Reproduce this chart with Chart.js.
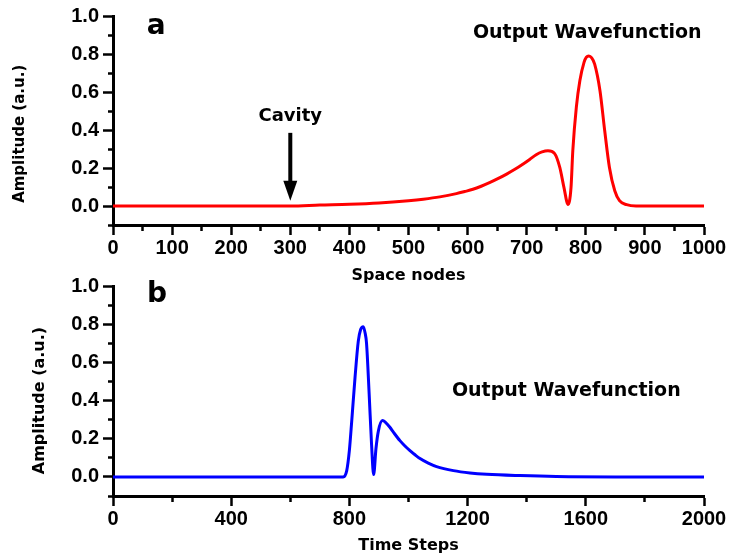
<!DOCTYPE html>
<html>
<head>
<meta charset="utf-8">
<script src="https://cdn.jsdelivr.net/npm/chart.js@4.4.1/dist/chart.umd.min.js"></script>
<style>
  body { margin: 0; background: #fff; }
  #wrap { position: relative; width: 730px; height: 558px; overflow: hidden; }
  canvas { position: absolute; left: 0; }
</style>
</head>
<body>
<div id="wrap">
  <canvas id="chartA" width="730" height="286" style="top:0"></canvas>
  <canvas id="chartB" width="730" height="288" style="top:270px"></canvas>
</div>
<script>
// panel a: amplitude along the space nodes
const spaceNodes = [0, 100, 200, 300, 350, 400, 450, 500, 525, 553, 581, 595, 609, 623, 638, 652, 666, 680, 694, 705, 716, 726, 736, 747, 756, 763, 770, 775, 778, 784, 790, 797, 801, 805, 810, 815, 824, 832, 840, 849, 857, 869, 885, 900, 1000];
const ampSpace   = [0, 0, 0, 0, 0.005, 0.009, 0.016, 0.028, 0.036, 0.048, 0.065, 0.076, 0.088, 0.104, 0.124, 0.145, 0.168, 0.193, 0.221, 0.245, 0.27, 0.285, 0.291, 0.277, 0.203, 0.098, 0.008, 0.098, 0.29, 0.52, 0.66, 0.756, 0.783, 0.79, 0.78, 0.747, 0.607, 0.396, 0.203, 0.08, 0.028, 0.007, 0, 0, 0];

// panel b: amplitude over time steps
const timeSteps = [0, 400, 779, 791, 800, 808, 819, 830, 838, 847, 853, 858, 867, 875, 882, 890, 898, 912, 922, 937, 950, 971, 988, 1005, 1022, 1039, 1067, 1095, 1152, 1208, 1265, 1377, 1500, 1700, 2000];
const ampTime   = [0, 0, 0, 0.033, 0.14, 0.295, 0.52, 0.71, 0.772, 0.787, 0.755, 0.70, 0.43, 0.17, 0.012, 0.15, 0.24, 0.295, 0.286, 0.26, 0.232, 0.19, 0.162, 0.138, 0.116, 0.096, 0.072, 0.054, 0.033, 0.021, 0.014, 0.007, 0.002, 0, 0];

const cavityNode = 300;

const TICK_FONT = { family: "'Liberation Sans', Arial, sans-serif", size: 20, weight: 'bold' };
const TITLE_FAMILY = "'DejaVu Sans', sans-serif";

// major ticks carry a label, minor ones are drawn shorter with a dash
function isMajor(value, every) {
  return value >= 0 && Math.abs(value / every - Math.round(value / every)) < 1e-6;
}

// texts and arrow drawn on top of the chart, placed with the chart's scales
function annotations(spec) {
  return {
    id: 'annotations',
    afterDraw(chart) {
      const { ctx, scales: { x, y } } = chart;
      ctx.save();
      ctx.fillStyle = '#000';
      ctx.strokeStyle = '#000';

      ctx.font = `bold 28px ${TITLE_FAMILY}`;
      ctx.textAlign = 'left';
      ctx.textBaseline = 'alphabetic';
      ctx.fillText(spec.letter, x.getPixelForValue(spec.letterAt[0]), y.getPixelForValue(spec.letterAt[1]));

      ctx.font = `bold 19px ${TITLE_FAMILY}`;
      ctx.fillText('Output Wavefunction', x.getPixelForValue(spec.outputAt[0]), y.getPixelForValue(spec.outputAt[1]));

      if (spec.cavity) {
        const cx = x.getPixelForValue(cavityNode);
        ctx.font = `bold 18px ${TITLE_FAMILY}`;
        ctx.textAlign = 'center';
        ctx.fillText('Cavity', cx, y.getPixelForValue(0.449));
        const top = y.getPixelForValue(0.385);
        const tip = y.getPixelForValue(0.028);
        ctx.lineWidth = 4;
        ctx.beginPath();
        ctx.moveTo(cx, top);
        ctx.lineTo(cx, tip - 15);
        ctx.stroke();
        ctx.beginPath();
        ctx.moveTo(cx - 7, tip - 20);
        ctx.lineTo(cx + 7, tip - 20);
        ctx.lineTo(cx, tip);
        ctx.closePath();
        ctx.fill();
      }

      // y axis title
      ctx.save();
      ctx.font = `bold ${spec.yTitleSize}px ${TITLE_FAMILY}`;
      ctx.translate(spec.yTitleX, y.getPixelForValue(spec.yTitleAt));
      ctx.rotate(-Math.PI / 2);
      ctx.textAlign = 'center';
      ctx.textBaseline = 'middle';
      ctx.fillText('Amplitude (a.u.)', 0, 0);
      ctx.restore();

      ctx.restore();
    }
  };
}

function makeChart(id, cfg) {
  const points = cfg.xs.map((v, i) => ({ x: v, y: cfg.ys[i] }));
  return new Chart(document.getElementById(id), {
    type: 'line',
    data: {
      datasets: [{
        data: points,
        borderColor: cfg.color,
        borderWidth: 3,
        pointRadius: 0,
        cubicInterpolationMode: 'monotone',
        fill: false
      }]
    },
    options: {
      responsive: false,
      animation: false,
      layout: { padding: { top: 15, right: 26, left: 0, bottom: 0 } },
      plugins: { legend: { display: false }, tooltip: { enabled: false } },
      scales: {
        x: {
          type: 'linear',
          min: 0,
          max: cfg.xMax,
          afterFit: (s) => { s.height = cfg.xAxisHeight; },
          border: { display: true, color: '#000', width: 3 },
          grid: {
            drawOnChartArea: false,
            drawTicks: true,
            tickLength: 10,
            tickWidth: 2.5,
            tickColor: '#000',
            tickBorderDash: (c) => isMajor(c.tick.value, cfg.xLabelEvery) ? [] : [4, 50]
          },
          ticks: {
            stepSize: cfg.xStep,
            autoSkip: false,
            maxRotation: 0,
            padding: 1,
            color: '#000',
            font: TICK_FONT,
            callback: (v) => isMajor(v, cfg.xLabelEvery) ? String(Math.round(v)) : ''
          },
          title: {
            display: true,
            text: cfg.xTitle,
            color: '#000',
            font: { family: TITLE_FAMILY, size: 16, weight: 'bold', lineHeight: 1.2 },
            padding: { top: 0, bottom: cfg.xTitlePad }
          }
        },
        y: {
          type: 'linear',
          min: -0.1,
          max: 1.0,
          afterFit: (s) => { s.width = 113; },
          border: { display: true, color: '#000', width: 3 },
          grid: {
            drawOnChartArea: false,
            drawTicks: true,
            tickLength: 10,
            tickWidth: 2.5,
            tickColor: '#000',
            tickBorderDash: (c) => isMajor(c.tick.value, 0.2) ? [] : [5, 5],
            tickBorderDashOffset: (c) => isMajor(c.tick.value, 0.2) ? 0 : 5
          },
          ticks: {
            stepSize: 0.1,
            autoSkip: false,
            padding: 4,
            color: '#000',
            font: TICK_FONT,
            callback: (v) => isMajor(v, 0.2) ? v.toFixed(1) : ''
          }
        }
      }
    },
    plugins: [annotations(cfg.notes)]
  });
}

makeChart('chartA', {
  xs: spaceNodes, ys: ampSpace, color: '#ff0000',
  xMax: 1000, xStep: 50, xLabelEvery: 100,
  xTitle: 'Space nodes', xAxisHeight: 61, xTitlePad: 1,
  notes: { letter: 'a', letterAt: [57, 0.907], outputAt: [609, 0.886], cavity: true,
           yTitleX: 20, yTitleAt: 0.38, yTitleSize: 15 }
});

makeChart('chartB', {
  xs: timeSteps, ys: ampTime, color: '#0000ff',
  xMax: 2000, xStep: 200, xLabelEvery: 400,
  xTitle: 'Time Steps', xAxisHeight: 62, xTitlePad: 3,
  notes: { letter: 'b', letterAt: [115, 0.918], outputAt: [1147, 0.426], cavity: false,
           yTitleX: 40, yTitleAt: 0.40, yTitleSize: 16 }
});
</script>
</body>
</html>
